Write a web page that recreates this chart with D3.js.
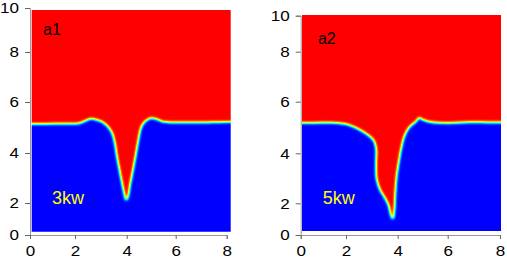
<!DOCTYPE html>
<html><head><meta charset="utf-8">
<script src="https://cdn.jsdelivr.net/npm/d3@7"></script>
<style>body{margin:0;background:#fff}svg{display:block}</style>
</head><body>
<svg id="c" width="507" height="259"></svg>
<script>
// ---- data ----
const xTicks = [0, 2, 4, 6, 8];
const yTicks = [0, 2, 4, 6, 8, 10];
const panelNames = ["a1", "a2"];
const powerLabels = ["3kw", "5kw"];
// interface (phase boundary) of panel a1, 3 kW
const interfaceX1 = [0.08,1.33,2.19,2.43,2.62,2.85,3.08,3.28,3.43,3.53,3.63,3.74,3.84,3.91,3.98,4.07,4.14,4.26,4.38,4.48,4.56,4.65,4.79,4.99,5.20,5.44,5.77,8.16];
const interfaceY1 = [5.14,5.15,5.17,5.27,5.34,5.29,5.20,5.02,4.78,4.43,3.80,3.20,2.68,2.34,2.10,2.30,2.72,3.32,3.96,4.51,4.90,5.12,5.26,5.36,5.33,5.24,5.20,5.22];
// interface of panel a2, 5 kW
const interfaceX2 = [0.06,1.60,2.16,2.54,2.93,3.08,3.17,3.16,3.16,3.19,3.32,3.51,3.64,3.69,3.77,3.82,3.88,3.91,3.96,4.06,4.16,4.29,4.49,4.76,4.85,4.96,5.29,5.89,6.85,8.04];
const interfaceY2 = [5.17,5.17,5.08,4.90,4.64,4.48,4.13,3.73,3.33,2.93,2.53,2.20,1.89,1.55,1.10,0.99,1.65,2.40,3.06,3.73,4.26,4.71,5.03,5.25,5.38,5.32,5.21,5.17,5.20,5.19];

// ---- layout ----
const panels = [
  { xr: [30, 75, 126.7, 175.7, 226.7], yr: [235, 203, 153, 102, 52, 8],
    frame: [31.7, 10, 230.7, 231.7], ix: interfaceX1, iy: interfaceY1,
    name: panelNames[0], power: powerLabels[0], namePos: [0.58, 8.77], powerPos: [0.98, 1.94] },
  { xr: [300.7, 346, 397.7, 447.7, 500], yr: [235, 203.3, 153.3, 101.7, 51.7, 15.7],
    frame: [302, 15, 501, 231], ix: interfaceX2, iy: interfaceY2,
    name: panelNames[1], power: powerLabels[1], namePos: [0.76, 8.43], powerPos: [0.97, 1.96] }
];
const FONT = "'Liberation Sans', Arial, sans-serif";
const svg = d3.select("#c");
const defs = svg.append("defs");

// jet colour map applied to the blurred phase indicator
const f = defs.append("filter").attr("id", "jet")
  .attr("color-interpolation-filters", "sRGB")
  .attr("filterUnits", "userSpaceOnUse")
  .attr("x", 0).attr("y", 0).attr("width", 507).attr("height", 259);
f.append("feGaussianBlur").attr("stdDeviation", 1.8);
const ct = f.append("feComponentTransfer");
ct.append("feFuncR").attr("type", "table").attr("tableValues", "0 0 0 0.5 1 1 1");
ct.append("feFuncG").attr("type", "table").attr("tableValues", "0 0.5 1 1 1 0.5 0");
ct.append("feFuncB").attr("type", "table").attr("tableValues", "1 1 1 0.5 0 0 0");

const SX = 1.1; // horizontal stretch of the tick labels
panels.forEach((p, i) => {
  const x = d3.scaleLinear().domain(xTicks).range(p.xr);
  const y = d3.scaleLinear().domain(yTicks).range(p.yr);
  const [fx0, fy0, fx1, fy1] = p.frame;
  defs.append("clipPath").attr("id", "clip" + i)
    .append("rect").attr("x", fx0).attr("y", fy0).attr("width", fx1 - fx0).attr("height", fy1 - fy0);

  const outer = svg.append("g").attr("clip-path", `url(#clip${i})`);
  const inner = outer.append("g").attr("filter", "url(#jet)");
  inner.append("rect").attr("x", fx0 - 15).attr("y", fy0 - 15)
    .attr("width", fx1 - fx0 + 30).attr("height", fy1 - fy0 + 30).attr("fill", "#000");
  const pts = p.ix.map((v, k) => [v, p.iy[k]]);
  const n = pts.length;
  const poly = [[pts[0][0] - 1, pts[0][1]], ...pts, [pts[n - 1][0] + 1, pts[n - 1][1]]];
  const line = d3.line().x(d => x(d[0])).y(d => y(d[1])).curve(d3.curveCatmullRom.alpha(0.5));
  const top = y(11);
  const dPath = line(poly) + `L${x(poly[poly.length - 1][0])},${top}L${x(poly[0][0])},${top}Z`;
  inner.append("path").attr("d", dPath).attr("fill", "#fff");

  // axes
  const ya = svg.append("g").attr("transform", `translate(${p.xr[0]},0)`)
    .call(d3.axisLeft(y).tickValues(yTicks).tickSizeOuter(0).tickSize(5).tickPadding(6));
  const xa = svg.append("g").attr("transform", `translate(0,${p.yr[0]})`)
    .call(d3.axisBottom(x).tickValues(xTicks).tickSizeOuter(0).tickSize(4).tickPadding(6));
  [ya, xa].forEach(a => {
    a.select(".domain").attr("stroke", "#999");
    a.selectAll(".tick line").attr("stroke", "#666");
    a.selectAll("text").attr("fill", "#000").style("font-family", FONT).style("font-size", "15.5px")
      .attr("transform", `scale(${SX},1)`);
  });
  ya.selectAll("text").attr("x", -11 / SX);

  svg.append("text").attr("x", x(p.namePos[0])).attr("y", y(p.namePos[1]))
    .style("font-family", FONT).style("font-size", "16px").attr("fill", "#000").text(p.name);
  svg.append("text").attr("x", x(p.powerPos[0])).attr("y", y(p.powerPos[1]))
    .style("font-family", FONT).style("font-size", "18px").attr("fill", "#ffff00").text(p.power);
});
</script>
</body></html>
